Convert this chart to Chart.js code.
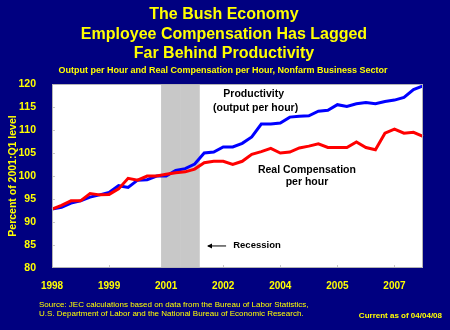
<!DOCTYPE html>
<html><head><meta charset="utf-8">
<script src="https://cdn.jsdelivr.net/npm/chart.js@4/dist/chart.umd.min.js"></script>
<style>html,body{margin:0;padding:0;background:#000080;}</style>
</head><body>
<canvas id="c" width="450" height="330"></canvas>
<script>
// ---- data ----
const quarters = [
 '1998 Q1','1998 Q2','1998 Q3','1998 Q4','1999 Q1','1999 Q2','1999 Q3','1999 Q4',
 '2000 Q1','2000 Q2','2000 Q3','2000 Q4','2001 Q1','2001 Q2','2001 Q3','2001 Q4',
 '2002 Q1','2002 Q2','2002 Q3','2002 Q4','2003 Q1','2003 Q2','2003 Q3','2003 Q4',
 '2004 Q1','2004 Q2','2004 Q3','2004 Q4','2005 Q1','2005 Q2','2005 Q3','2005 Q4',
 '2006 Q1','2006 Q2','2006 Q3','2006 Q4','2007 Q1','2007 Q2','2007 Q3','2007 Q4'];
const productivity = [92.8, 93.2, 94.1, 94.6, 95.4, 95.9, 96.4, 97.9, 97.5, 99.1,
 99.2, 100.0, 100.0, 101.2, 101.6, 102.6, 105.0, 105.2, 106.3, 106.3,
 107.1, 108.5, 111.3, 111.3, 111.5, 112.8, 113.0, 113.1, 114.1, 114.3,
 115.5, 115.1, 115.7, 116.0, 115.7, 116.2, 116.5, 117.1, 118.8, 119.6];
const compensation = [92.8, 93.6, 94.6, 94.6, 96.2, 95.9, 96.0, 97.2, 99.5, 99.1,
 100.0, 100.0, 100.4, 100.7, 100.9, 101.5, 102.9, 103.2, 103.2, 102.5,
 103.2, 104.7, 105.3, 106.0, 105.0, 105.2, 106.1, 106.5, 107.0, 106.2,
 106.2, 106.2, 107.4, 106.2, 105.7, 109.3, 110.2, 109.3, 109.5, 108.6];
const recessionQuarters = ['2001 Q1','2001 Q2','2001 Q3','2001 Q4'];
const yMin = 80, yMax = 120, yStep = 5;
const labelEvery = 6;

const YELLOW = '#ffff00';
const NAVY = '#000080';

const recession = quarters.map(q => recessionQuarters.includes(q) ? yMax : null);

const deco = {
  id: 'deco',
  beforeDraw(chart) {
    const {ctx, width, height} = chart;
    ctx.save(); ctx.fillStyle = NAVY; ctx.fillRect(0, 0, width, height); ctx.restore();
  },
  beforeDatasetsDraw(chart) {
    const {ctx, chartArea: a} = chart;
    ctx.save(); ctx.fillStyle = '#ffffff'; ctx.fillRect(a.left, a.top, a.width, a.height); ctx.restore();
  },
  afterDatasetsDraw(chart) {
    const {ctx, chartArea: a, scales: {x, y}} = chart;
    ctx.save();
    // small tick marks inside plot
    ctx.strokeStyle = '#c8c8c8'; ctx.lineWidth = 1;
    ctx.beginPath();
    for (let i = labelEvery; i < quarters.length; i += labelEvery) {
      const px = Math.round(x.getPixelForValue(i)) + 0.5;
      ctx.moveTo(px, a.bottom); ctx.lineTo(px, a.bottom - 3);
    }
    for (let v = yMin + yStep; v < yMax; v += yStep) {
      const py = Math.round(y.getPixelForValue(v)) + 0.5;
      ctx.moveTo(a.left, py); ctx.lineTo(a.left + 3, py);
    }
    ctx.stroke();
    // border
    ctx.strokeStyle = '#b4b4b4';
    ctx.strokeRect(a.left + 0.5, a.top + 0.5, a.width - 1, a.height - 1);
    // annotations
    ctx.fillStyle = '#000000';
    ctx.textAlign = 'center'; ctx.textBaseline = 'middle';
    ctx.font = 'bold 10.5px "Liberation Sans", Arial, sans-serif';
    ctx.fillText('Productivity', x.getPixelForValue(21.2), y.getPixelForValue(117.8));
    ctx.fillText('(output per hour)', x.getPixelForValue(21.4), y.getPixelForValue(114.8));
    ctx.fillText('Real Compensation', x.getPixelForValue(26.8), y.getPixelForValue(101.3));
    ctx.fillText('per hour', x.getPixelForValue(26.8), y.getPixelForValue(98.7));
    ctx.textAlign = 'left';
    ctx.font = 'bold 9.5px "Liberation Sans", Arial, sans-serif';
    const ry = y.getPixelForValue(84.9);
    ctx.fillText('Recession', x.getPixelForValue(19.05), ry);
    const ax0 = x.getPixelForValue(18.3), ax1 = x.getPixelForValue(16.4);
    ctx.strokeStyle = '#000'; ctx.lineWidth = 1;
    ctx.beginPath(); ctx.moveTo(ax0, ry + 0.5); ctx.lineTo(ax1, ry + 0.5); ctx.stroke();
    ctx.beginPath(); ctx.moveTo(ax1 - 1, ry + 0.5); ctx.lineTo(ax1 + 4, ry - 2); ctx.lineTo(ax1 + 4, ry + 3); ctx.closePath(); ctx.fill();
    ctx.restore();
  },
  afterDraw(chart) {
    const {ctx} = chart;
    ctx.save();
    ctx.fillStyle = YELLOW; ctx.textAlign = 'center'; ctx.textBaseline = 'middle';
    ctx.font = 'bold 16px "Liberation Sans", Arial, sans-serif';
    ctx.fillText('The Bush Economy', 224, 15);
    ctx.fillText('Employee Compensation Has Lagged', 224, 34.5);
    ctx.fillText('Far Behind Productivity', 224, 54);
    ctx.font = 'bold 9px "Liberation Sans", Arial, sans-serif';
    ctx.fillText('Output per Hour and Real Compensation per Hour, Nonfarm Business Sector', 223, 71);
    ctx.textAlign = 'left';
    ctx.font = '8px "Liberation Sans", Arial, sans-serif';
    ctx.fillText('Source: JEC calculations based on data from the Bureau of Labor Statistics,', 39, 304.5);
    ctx.fillText('U.S. Department of Labor and the National Bureau of Economic Research.', 39, 314);
    ctx.textAlign = 'right';
    ctx.font = 'bold 8px "Liberation Sans", Arial, sans-serif';
    ctx.fillText('Current as of 04/04/08', 442, 316);
    ctx.restore();
  }
};

new Chart(document.getElementById('c'), {
  data: {
    labels: quarters,
    datasets: [
      { type: 'line', label: 'Real Compensation per hour', data: compensation,
        borderColor: '#ff0000', borderWidth: 3, pointRadius: 0, tension: 0, order: 1 },
      { type: 'line', label: 'Productivity (output per hour)', data: productivity,
        borderColor: '#0000ff', borderWidth: 3, pointRadius: 0, tension: 0, order: 2 },
      { type: 'bar', label: 'Recession', data: recession, backgroundColor: '#c8c8c8',
        barPercentage: 1, categoryPercentage: 1, order: 10 }
    ]
  },
  options: {
    responsive: false, animation: false, devicePixelRatio: 1,
    layout: { padding: { left: 0, right: 27, top: 84, bottom: 0 } },
    plugins: { legend: { display: false }, tooltip: { enabled: false }, title: { display: false } },
    scales: {
      x: {
        type: 'category', offset: false,
        grid: { display: false }, border: { display: false },
        ticks: {
          autoSkip: false, maxRotation: 0, padding: 4, color: YELLOW,
          font: { family: '"Liberation Sans", Arial, sans-serif', size: 10, weight: 'bold' },
          callback: (v, i) => i % labelEvery === 0 ? quarters[i].slice(0, 4) : ''
        },
        afterFit: s => { s.height = 62; }
      },
      y: {
        min: yMin, max: yMax,
        grid: { display: false }, border: { display: false },
        ticks: { stepSize: yStep, padding: 8, color: YELLOW,
          font: { family: '"Liberation Sans", Arial, sans-serif', size: 10.5, weight: 'bold' } },
        title: { display: true, text: 'Percent of 2001:Q1 level', color: YELLOW,
          padding: { top: 7, bottom: 0 },
          font: { family: '"Liberation Sans", Arial, sans-serif', size: 10.5, weight: 'bold' } },
        afterFit: s => { s.width = 52; }
      }
    }
  },
  plugins: [deco]
});
</script>
</body></html>
